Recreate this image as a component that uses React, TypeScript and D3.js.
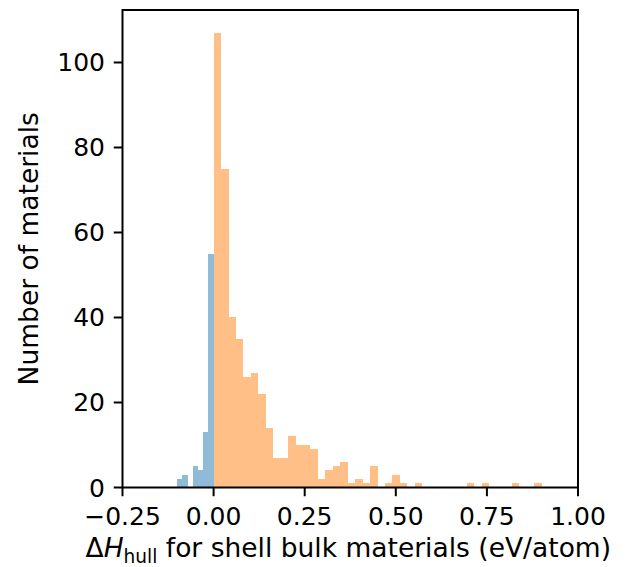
import React from "react";
import * as d3 from "d3";

// histogram of the stable part (blue) and the unstable part (orange)
const blueRange = [-0.1, 0.0];
const blueCounts = [2, 3, 0, 5, 4, 13, 55];

const orangeRange = [0.0, 0.9];
const orangeCounts = [
  107, 75, 40, 35, 26, 27, 22, 14, 7, 7, 12, 10, 10, 9, 2, 4, 5, 6, 1, 2, 1, 5,
  0, 1, 3, 1, 0, 1, 0, 0, 0, 0, 0, 0, 1, 0, 1, 0, 0, 0, 1, 0, 0, 1,
];

const xTicks = [-0.25, 0, 0.25, 0.5, 0.75, 1.0];
const yTicks = [0, 20, 40, 60, 80, 100];

const W = 625;
const H = 567;
const margin = { left: 122.5, right: 47, top: 10, bottom: 79.5 };
const FONT = "DejaVu Sans, sans-serif";
const FS = 25;
const LABEL_FS = 26.5;

const toBins = (range: number[], counts: number[]) => {
  const step = (range[1] - range[0]) / counts.length;
  return counts.map((c, i) => ({
    x0: range[0] + i * step,
    x1: range[0] + (i + 1) * step,
    count: c,
  }));
};

const fmtX = (v: number) => d3.format(".2f")(v).replace("-", "\u2212");

export default function App() {
  const x = d3
    .scaleLinear()
    .domain([-0.25, 1.0])
    .range([margin.left, W - margin.right]);
  const y = d3
    .scaleLinear()
    .domain([0, 112.35])
    .range([H - margin.bottom, margin.top]);

  const blueBins = toBins(blueRange, blueCounts);
  const orangeBins = toBins(orangeRange, orangeCounts);

  const x0 = margin.left;
  const x1 = W - margin.right;
  const y0 = H - margin.bottom;
  const y1 = margin.top;
  const tickLen = 8.75;

  return (
    <svg
      width={W}
      height={H}
      style={{ position: "absolute", left: 0, top: 0, background: "#fff" }}
      fontFamily={FONT}
    >
      <g shapeRendering="crispEdges">
        {blueBins.map((b, i) => (
          <rect
            key={"b" + i}
            x={x(b.x0)}
            width={x(b.x1) - x(b.x0)}
            y={y(b.count)}
            height={y(0) - y(b.count)}
            fill="#1f77b4"
            fillOpacity={0.5}
          />
        ))}
        {orangeBins.map((b, i) => (
          <rect
            key={"o" + i}
            x={x(b.x0)}
            width={x(b.x1) - x(b.x0)}
            y={y(b.count)}
            height={y(0) - y(b.count)}
            fill="#ff7f0e"
            fillOpacity={0.5}
          />
        ))}
      </g>

      {/* spines */}
      <rect
        x={x0}
        y={y1}
        width={x1 - x0}
        height={y0 - y1}
        fill="none"
        stroke="#000"
        strokeWidth={2}
        strokeLinejoin="miter"
      />

      {/* x ticks */}
      {xTicks.map((t) => (
        <g key={"xt" + t}>
          <line x1={x(t)} x2={x(t)} y1={y0} y2={y0 + tickLen} stroke="#000" strokeWidth={2} />
          <text x={x(t)} y={y0 + 37.5} textAnchor="middle" fontSize={FS} fill="#000">
            {fmtX(t)}
          </text>
        </g>
      ))}

      {/* y ticks */}
      {yTicks.map((t) => (
        <g key={"yt" + t}>
          <line x1={x0 - tickLen} x2={x0} y1={y(t)} y2={y(t)} stroke="#000" strokeWidth={2} />
          <text
            x={x0 - 17.5}
            y={y(t)}
            dy="0.36em"
            textAnchor="end"
            fontSize={FS}
            fill="#000"
          >
            {t}
          </text>
        </g>
      ))}

      {/* axis labels */}
      <text x={(x0 + x1) / 2 - 2} y={557} textAnchor="middle" fontSize={LABEL_FS} fill="#000">
        <tspan>Δ</tspan>
        <tspan fontStyle="italic">H</tspan>
        <tspan fontSize={LABEL_FS * 0.7} dy={6}>hull</tspan>
        <tspan dy={-6}> for shell bulk materials (eV/atom)</tspan>
      </text>
      <text
        transform={`translate(38, ${(y0 + y1) / 2}) rotate(-90)`}
        textAnchor="middle"
        fontSize={LABEL_FS}
        fill="#000"
      >
        Number of materials
      </text>
    </svg>
  );
}
